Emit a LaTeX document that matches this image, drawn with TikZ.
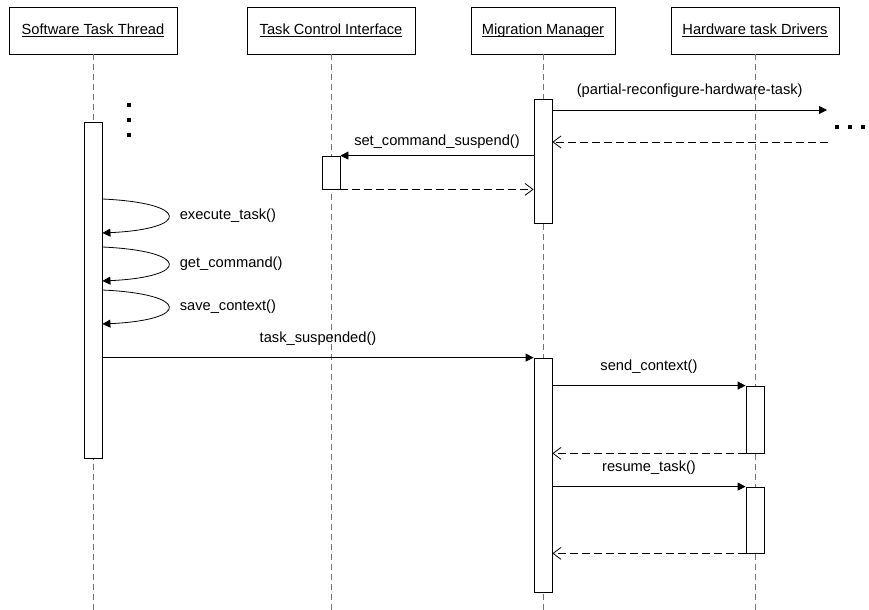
\documentclass[tikz,border=0pt]{standalone}
\usepackage{fontspec}
\setmainfont{Liberation Sans}
\usetikzlibrary{arrows.meta,positioning,calc}
\newcommand\alahuz[1]{\underline{\raisebox{0pt}[\height][0pt]{#1}}}
\tikzset{
  fej/.style={draw,minimum width=126pt,minimum height=35.25pt,inner sep=0pt,
              font=\fontsize{11}{13}\selectfont},
  elet/.style={draw=black!55,dash pattern=on 4.5pt off 3pt},
  akt/.style={draw,fill=white,minimum width=13.5pt,inner sep=0pt},
  uzenet/.style={-{Triangle[length=6pt,width=6pt]}},
  valasz/.style={dash pattern=on 6pt off 3pt,-{Straight Barb[length=6pt,width=9pt]}},
  cimke/.style={font=\fontsize{11}{13}\selectfont,inner sep=0pt},
  pont/.style={fill,minimum size=3pt,inner sep=0pt},
}
\begin{document}
\begin{tikzpicture}[x=0.75pt,y=-0.75pt,line width=0.6pt]
  \useasboundingbox (0,0) rectangle (869,610);
  % fejlecek
  \node[fej] (sw) at (93,30.5) {\alahuz{Software Task Thread}};
  \node[fej] (tci) at (331,30.5) {\alahuz{Task Control Interface}};
  \node[fej,minimum width=108pt] (mm) at (543,30.5) {\alahuz{Migration Manager}};
  \node[fej] (hw) at (755,30.5) {\alahuz{Hardware task Drivers}};
  % eletvonalak
  \foreach \n in {sw,tci,mm,hw}
    \draw[elet] (\n.south) -- (\n.south |- 0,610);
  % aktivacios dobozok
  \node[akt,minimum height=252pt] (swa) at (93,290) {};
  \node[akt,minimum height=24.75pt] (tcia) at (331,172.5) {};
  \node[akt,minimum height=93pt] (mma) at (543,161) {};
  \node[akt,minimum height=175.5pt] (mmb) at (543,475) {};
  \node[akt,minimum height=50.25pt] (hwa) at (755,419.5) {};
  \node[akt,minimum height=49.5pt] (hwb) at (755,520) {};
  % pontok
  \foreach \y [count=\i] in {105,120,135}
    \node[pont] (bp\i) at (129,\y) {};
  \foreach \x [count=\i] in {837,850,863}
    \node[pont] (jp\i) at (\x,127) {};
  % uzenetek
  \coordinate (pr) at (827,110);
  \coordinate (pv) at (828,142);
  \draw[uzenet] (mma.east |- pr) -- (pr)
    node[cimke,midway,above=9pt] (l1) {(partial-reconfigure-hardware-task)};
  \draw[valasz] (pv) -- (pv -| mma.east);
  \draw[uzenet] (mma.west |- tcia.north) -- (tcia.north east)
    node[cimke,midway,above=5.3pt] (l2) {set\_command\_suspend()};
  \draw[valasz] (tcia.south east) -- (tcia.south east -| mma.west);
  \foreach \y/\szoveg [count=\i] in {199/execute\_task(),247/get\_command(),290/save\_context()}
    \draw[uzenet] (swa.east |- 0,\y) .. controls +(88,4) and +(88,-4) .. (swa.east |- 0,\y+34)
      node[cimke,pos=0.5,anchor=west,xshift=8.25pt] (s\i) {\szoveg};
  \draw[uzenet] (swa.east |- mmb.north) -- (mmb.north west)
    node[cimke,midway,above=9pt] (l3) {task\_suspended()};
  \draw[uzenet] (mmb.east |- hwa.north) -- (hwa.north west)
    node[cimke,midway,above=9pt] (l4) {send\_context()};
  \draw[valasz] (hwa.south west) -- (hwa.south west -| mmb.east);
  \draw[uzenet] (mmb.east |- hwb.north) -- (hwb.north west)
    node[cimke,midway,above=9pt] (l5) {resume\_task()};
  \draw[valasz] (hwb.south west) -- (hwb.south west -| mmb.east);
\end{tikzpicture}
\end{document}
